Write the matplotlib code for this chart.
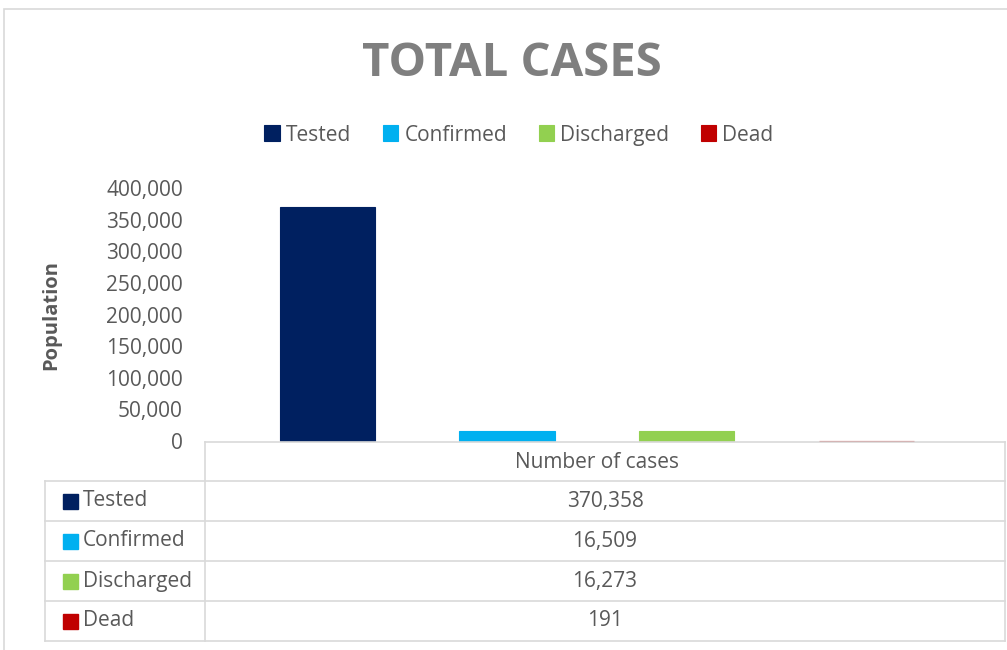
"""TOTAL CASES: 4 series bar chart with an Excel-like data table under it."""
import matplotlib
matplotlib.use("Agg")
import matplotlib.pyplot as plt
from matplotlib.patches import Rectangle
from matplotlib.ticker import FuncFormatter

series = ["Tested", "Confirmed", "Discharged", "Dead"]
values = [370358, 16509, 16273, 191]
colors = ["#002060", "#00B0F0", "#92D050", "#C00000"]
yticks = [0, 50000, 100000, 150000, 200000, 250000, 300000, 350000, 400000]
category = "Number of cases"

plt.rcParams["font.family"] = ["Open Sans", "DejaVu Sans"]
GREY = "#595959"
GRID = "#d9d9d9"

W, H = 1007, 650
fig = plt.figure(figsize=(W / 100, H / 100), dpi=100)


def fx(px):
    return px / W


def fy(py):
    return 1 - py / H


# outer chart border
fig.patches.append(Rectangle((fx(4), fy(660)), fx(1010) - fx(4), fy(9) - fy(660),
                             transform=fig.transFigure, fill=False, ec=GRID, lw=1.2))

fig.text(fx(512), fy(63), "TOTAL CASES", ha="center", va="center",
         fontsize=34, fontweight="bold", color="#7f7f7f")

# plot area
ax = fig.add_axes([fx(205), fy(441), fx(1005) - fx(205), fy(188) - fy(441)])
xs = list(range(len(series)))
for x, v, c, s in zip(xs, values, colors, series):
    ax.bar(x, v, width=0.53, color=c, edgecolor=c, lw=0.8, label=s, clip_on=False)
ax.set_xlim(-0.68, 3.77)
ax.set_ylim(0, 400000)
ax.set_yticks(yticks)
ax.yaxis.set_major_formatter(FuncFormatter(lambda v, _: f"{v:,.0f}"))
ax.tick_params(axis="y", length=0, pad=16, labelsize=15, labelcolor=GREY)
ax.set_xticks([])
for sp in ax.spines.values():
    sp.set_visible(False)
ax.set_ylabel("Population", fontsize=14.5, fontweight="bold", color=GREY)
ax.yaxis.set_label_coords(-0.18, 0.5)

leg = fig.legend(loc="center", bbox_to_anchor=(fx(519), fy(135)), ncol=4, frameon=False,
                 fontsize=15, handlelength=0.75, handleheight=0.8, handletextpad=0.3,
                 columnspacing=1.5, labelcolor=GREY)

# data table
x0, x1, x2 = 45, 205, 1005
rows = [441, 481, 521, 561, 601, 641]
line = dict(color=GRID, lw=1.2, transform=fig.transFigure)
fig.add_artist(plt.Line2D([fx(x1), fx(x2)], [fy(rows[0] + 1)] * 2, **line))
for r in rows[1:]:
    fig.add_artist(plt.Line2D([fx(x0), fx(x2)], [fy(r)] * 2, **line))
fig.add_artist(plt.Line2D([fx(x0)] * 2, [fy(rows[1]), fy(rows[-1])], **line))
fig.add_artist(plt.Line2D([fx(x1)] * 2, [fy(rows[0] + 1), fy(rows[-1])], **line))
fig.add_artist(plt.Line2D([fx(x2)] * 2, [fy(rows[0] + 1), fy(rows[-1])], **line))

fig.text(fx(597), fy(462), category, ha="center", va="center", fontsize=15, color=GREY)
for i, (s, v, c) in enumerate(zip(series, values, colors)):
    yc = (rows[i + 1] + rows[i + 2]) / 2
    fig.patches.append(Rectangle((fx(63), fy(yc + 8)), fx(15), fy(0) - fy(15),
                                 transform=fig.transFigure, color=c))
    fig.text(fx(83), fy(yc), s, ha="left", va="center", fontsize=15, color=GREY)
    fig.text(fx(605), fy(yc), f"{v:,}", ha="center", va="center", fontsize=15, color=GREY)

fig.savefig("out.png", dpi=100)
